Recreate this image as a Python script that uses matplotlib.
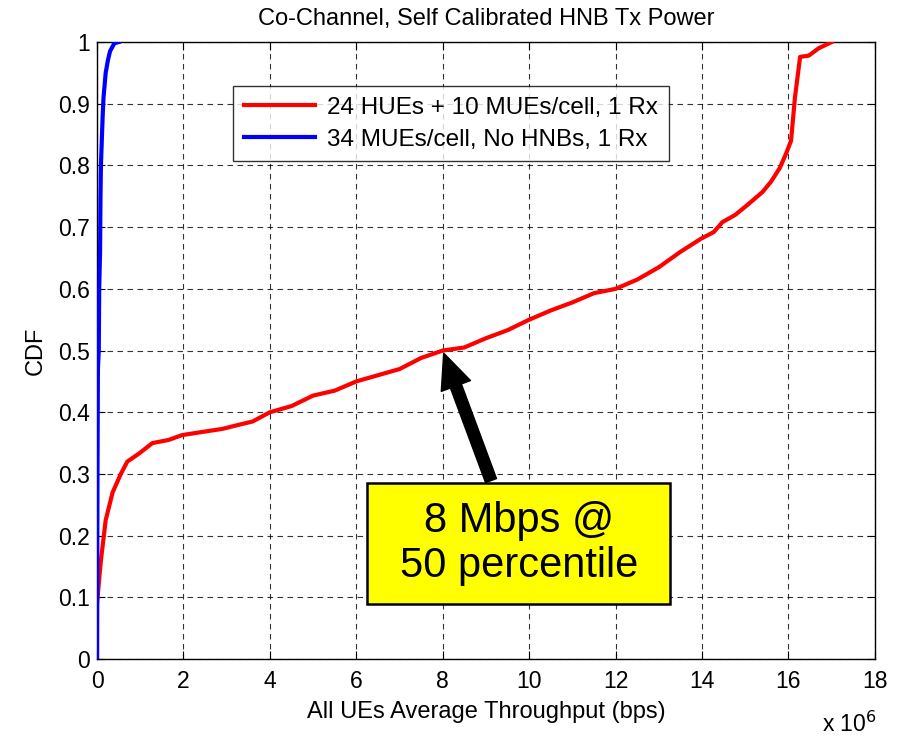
import numpy as np
import matplotlib.pyplot as plt
from matplotlib.patches import FancyArrowPatch, Rectangle

plt.rcParams['font.family'] = ['Liberation Sans', 'DejaVu Sans']

# throughput (x 1e6 bps) vs CDF
red_x = [0.0, 0.0, 0.05, 0.09, 0.2, 0.36, 0.55, 0.7, 0.97, 1.28, 1.65, 1.97, 2.43, 2.9, 3.3,
         3.6, 4.0, 4.5, 5.0, 5.5, 6.0, 6.5, 7.0, 7.5, 8.0, 8.5, 9.0, 9.5, 10.0, 10.5,
         11.0, 11.5, 12.0, 12.5, 13.0, 13.5, 13.97, 14.27, 14.47, 14.77, 15.05, 15.4,
         15.6, 15.8, 15.95, 16.06, 16.15, 16.27, 16.47, 16.7, 17.0]
red_y = [0.0, 0.09, 0.13, 0.16, 0.225, 0.27, 0.30, 0.32, 0.333, 0.35, 0.355, 0.363, 0.368,
         0.373, 0.38, 0.385, 0.40, 0.41, 0.427, 0.435, 0.45, 0.46, 0.47, 0.488, 0.50,
         0.505, 0.52, 0.533, 0.55, 0.565, 0.578, 0.593, 0.60, 0.615, 0.635, 0.66, 0.681,
         0.692, 0.708, 0.72, 0.736, 0.757, 0.774, 0.796, 0.82, 0.84, 0.91, 0.976, 0.978,
         0.99, 1.0]

blue_x = [0.0, 0.01, 0.02, 0.04, 0.05, 0.07, 0.08, 0.09, 0.11, 0.13, 0.15, 0.2, 0.25,
          0.3, 0.4, 0.5]
blue_y = [0.0, 0.3, 0.47, 0.5, 0.6, 0.66, 0.75, 0.8, 0.84, 0.88, 0.91, 0.95, 0.97,
          0.985, 0.998, 1.0]

labels = ['24 HUEs + 10 MUEs/cell, 1 Rx', '34 MUEs/cell, No HNBs, 1 Rx']

fig = plt.figure(figsize=(9.01, 7.38), dpi=100)
ax = fig.add_axes([0.1077, 0.107, 0.8633, 0.836])

ax.plot(red_x, red_y, color='red', lw=3, label=labels[0], zorder=3)
ax.plot(blue_x, blue_y, color='blue', lw=3, label=labels[1], zorder=3)

ax.set_xlim(0, 18)
ax.set_ylim(0, 1)
ax.set_xticks(np.arange(0, 19, 2))
ax.set_yticks(np.arange(0, 1.01, 0.1))
ax.set_yticklabels(['0'] + ['%.1f' % v for v in np.arange(0.1, 0.95, 0.1)] + ['1'])
ax.tick_params(direction='in', top=True, right=True, labelsize=16.5, length=6)
ax.tick_params(axis='x', pad=8)
ax.tick_params(axis='y', pad=5)
ax.grid(True, color='black', linestyle=(0, (5, 4)), linewidth=0.8, alpha=0.8)
for s in ax.spines.values():
    s.set_linewidth(1.0)

ax.set_title('Co-Channel, Self Calibrated HNB Tx Power', fontsize=17, pad=12)
ax.set_xlabel('All UEs Average Throughput (bps)', fontsize=17, labelpad=6)
ax.set_ylabel('CDF', fontsize=17, labelpad=8)
fig.text(0.912, 0.008, r'x 10$^{6}$', fontsize=16.5)

leg = ax.legend(loc='upper left', bbox_to_anchor=(0.175, 0.929), fontsize=17.5,
                handlelength=2.9, frameon=True, fancybox=False, borderpad=0.45,
                labelspacing=0.4, handletextpad=0.5, borderaxespad=0)
leg.get_frame().set_edgecolor('black')
leg.get_frame().set_linewidth(1.0)

arrow = FancyArrowPatch((9.14, 0.285), (8.0, 0.5),
                        arrowstyle='simple,head_width=1.6,head_length=1.8,tail_width=0.6',
                        mutation_scale=14, color='black', zorder=4)
ax.add_patch(arrow)
ax.add_patch(Rectangle((6.25, 0.089), 7.01, 0.196, facecolor='#ffff00',
                       edgecolor='black', linewidth=1.8, zorder=5))
ax.text(9.76, 0.187, '8 Mbps @\n50 percentile', fontsize=30, ha='center', va='center',
        linespacing=1.15, zorder=6)

fig.savefig('out.png', dpi=100)
